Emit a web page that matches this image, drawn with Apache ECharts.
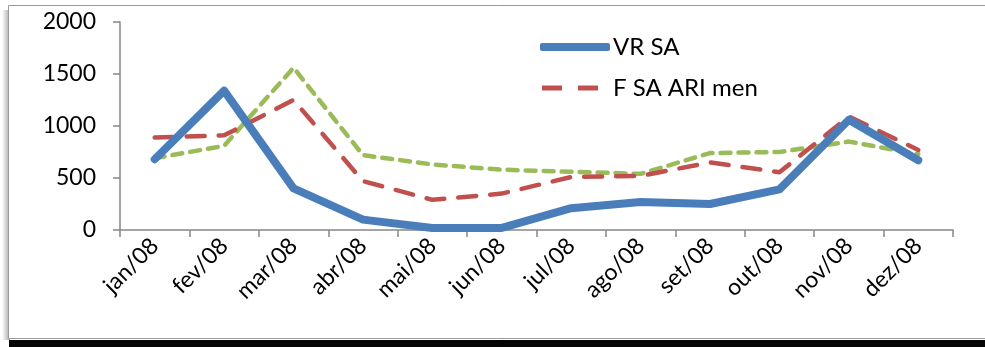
<!DOCTYPE html>
<html>
<head>
<meta charset="utf-8">
<style>
  html, body { margin: 0; padding: 0; background: #ffffff; }
  #chart { width: 985px; height: 347px; }
</style>
<script src="https://cdn.jsdelivr.net/npm/echarts@6/dist/echarts.min.js"></script>
</head>
<body>
<div id="chart"></div>
<script>
// Monthly series for 2008
const months = ['jan/08', 'fev/08', 'mar/08', 'abr/08', 'mai/08', 'jun/08',
                'jul/08', 'ago/08', 'set/08', 'out/08', 'nov/08', 'dez/08'];
const vrSA      = [680, 1340, 400, 100, 20, 20, 210, 270, 250, 390, 1060, 670];
const fSaAriMen = [890, 910, 1250, 470, 290, 350, 510, 520, 650, 555, 1090, 770];
const thirdSeries = [690, 810, 1560, 720, 630, 580, 560, 540, 740, 750, 850, 730];
const yTicks = [0, 500, 1000, 1500, 2000];

const FONT = 'Lato, "Noto Sans", sans-serif';
const AXIS_GRAY = '#868686';
const BLUE = '#4A7EBB', RED = '#C0504D', GREEN = '#9BBB59';

const chart = echarts.init(document.getElementById('chart'), null, { renderer: 'canvas' });

chart.setOption({
  animation: false,
  backgroundColor: '#ffffff',
  graphic: [
    // soft shadow on the left of the frame
    { type: 'rect', z: -3, shape: { x: 2, y: 10, width: 8, height: 330 },
      style: { fill: new echarts.graphic.LinearGradient(0, 0, 1, 0, [
        { offset: 0, color: 'rgba(0,0,0,0)' },
        { offset: 1, color: 'rgba(0,0,0,0.35)' }
      ]) } },
    // dark band below the frame
    { type: 'rect', z: -3, shape: { x: 9, y: 340, width: 990, height: 10 },
      style: { fill: '#050505' } },
    // chart frame
    { type: 'rect', z: -2, shape: { x: 8.5, y: 5.5, width: 990, height: 333 },
      style: { fill: '#ffffff', stroke: '#9a9a9a', lineWidth: 1 } }
  ],
  grid: { left: 120, right: 32, top: 22, bottom: 117, containLabel: false },
  legend: [
    {
      left: 535, top: 30,
      itemWidth: 70, itemHeight: 8,
      data: [{ name: 'VR SA', icon: 'roundRect' }],
      textStyle: { fontFamily: FONT, fontSize: 24, color: '#000', padding: [0, 0, 0, -2] }
    },
    {
      left: 537, top: 71,
      itemWidth: 56, itemHeight: 5,
      data: [{ name: 'F SA ARI men', icon: 'path://M0,0h20v5h-20z M36,0h20v5h-20z' }],
      textStyle: { fontFamily: FONT, fontSize: 24, color: '#000', padding: [0, 0, 0, 10] }
    }
  ],
  xAxis: {
    type: 'category',
    data: months,
    boundaryGap: true,
    axisLine: { lineStyle: { color: AXIS_GRAY, width: 1.5 } },
    axisTick: { show: true, alignWithLabel: false, length: 7, lineStyle: { color: AXIS_GRAY, width: 1.5 } },
    axisLabel: { rotate: 45, margin: 12, fontFamily: FONT, fontSize: 23, color: '#000' },
    splitLine: { show: false }
  },
  yAxis: {
    type: 'value',
    min: yTicks[0], max: yTicks[yTicks.length - 1], interval: 500,
    axisLine: { show: true, lineStyle: { color: AXIS_GRAY, width: 1.5 } },
    axisTick: { show: true, length: 7, lineStyle: { color: AXIS_GRAY, width: 1.5 } },
    axisLabel: { margin: 24, fontFamily: FONT, fontSize: 23, color: '#000',
                 formatter: v => String(v) },
    splitLine: { show: false }
  },
  series: [
    {
      name: 'serie 3', type: 'line', data: thirdSeries, z: 2,
      symbol: 'none',
      lineStyle: { color: GREEN, width: 4.5, type: [10, 8], cap: 'round', join: 'round' },
      itemStyle: { color: GREEN }
    },
    {
      name: 'F SA ARI men', type: 'line', data: fSaAriMen, z: 3,
      symbol: 'none',
      lineStyle: { color: RED, width: 4.5, type: [18, 14], cap: 'round', join: 'round' },
      itemStyle: { color: RED }
    },
    {
      name: 'VR SA', type: 'line', data: vrSA, z: 4,
      symbol: 'none',
      lineStyle: { color: BLUE, width: 8, cap: 'round', join: 'round' },
      itemStyle: { color: BLUE }
    }
  ]
});
</script>
</body>
</html>
